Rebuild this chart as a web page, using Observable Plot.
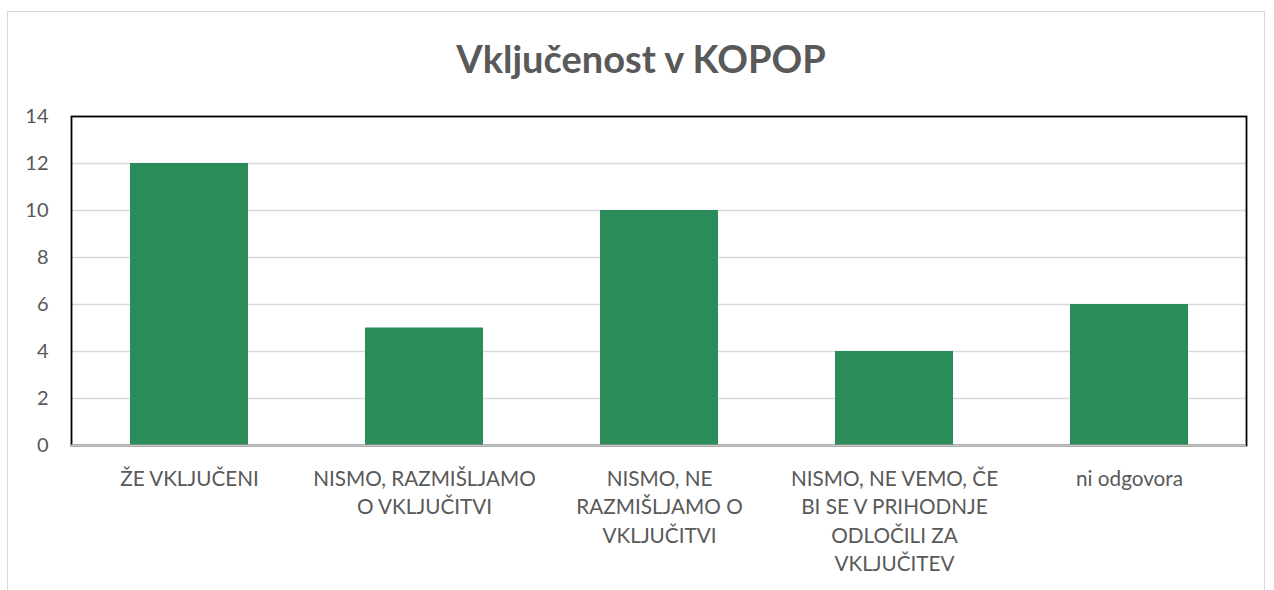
<!DOCTYPE html>
<html><head><meta charset="utf-8">
<script src="https://cdn.jsdelivr.net/npm/d3@7"></script>
<script src="https://cdn.jsdelivr.net/npm/@observablehq/plot@0.6"></script>
<style>
html,body{margin:0;padding:0;background:#fff;overflow:hidden;}
#wrap{position:relative;width:1274px;height:590px;}
#box{position:absolute;left:7px;top:11px;width:1258px;height:600px;border:1.5px solid #d9d9d9;box-sizing:border-box;}
#title{position:absolute;left:0;top:35px;width:1282px;text-align:center;font-family:Lato,sans-serif;font-weight:bold;font-size:38px;color:#595959;}
#chart{position:absolute;left:0;top:100px;}
</style></head>
<body><div id="wrap"><div id="box"></div><div id="title">Vključenost v KOPOP</div><div id="chart"></div></div>
<script>
const categories = ["ŽE VKLJUČENI", "NISMO, RAZMIŠLJAMO\nO VKLJUČITVI", "NISMO, NE\nRAZMIŠLJAMO O\nVKLJUČITVI", "NISMO, NE VEMO, ČE\nBI SE V PRIHODNJE\nODLOČILI ZA\nVKLJUČITEV", "ni odgovora"];
const values = [12, 5, 10, 4, 6];
const yTicks = [0, 2, 4, 6, 8, 10, 12, 14];
const data = categories.map((c, i) => ({cat: c, v: values[i]}));

const chart = Plot.plot({
  width: 1274,
  height: 490,
  marginLeft: 71,
  marginRight: 28,
  marginTop: 16,
  marginBottom: 145,
  style: {fontFamily: "Lato, sans-serif", fontSize: "20px", color: "#595959", background: "transparent"},
  x: {domain: categories, paddingInner: 0.5, paddingOuter: 0.25, label: null},
  y: {domain: [0, 14], ticks: yTicks, label: null},
  marks: [
    Plot.gridY(yTicks, {stroke: "#d9d9d9", strokeOpacity: 1, strokeWidth: 1.5}),
    Plot.barY(data, {x: "cat", y: "v", fill: "#2a8c58", style: "filter: drop-shadow(0px 0px 3px rgba(0,0,0,0.25))"}),
    Plot.frame({stroke: "#000", strokeWidth: 1.8}),
    Plot.ruleY([0], {stroke: "#c8c8c8", strokeWidth: 2}),
    Plot.axisY(yTicks, {tickSize: 0, tickPadding: 23, fill: "#595959", fontSize: 20}),
    Plot.axisX({tickSize: 0, tickPadding: 21, fill: "#595959", fontSize: 20.7, lineHeight: 1.355, textOverflow: null})
  ]
});
document.getElementById("chart").appendChild(chart);
</script></body></html>
